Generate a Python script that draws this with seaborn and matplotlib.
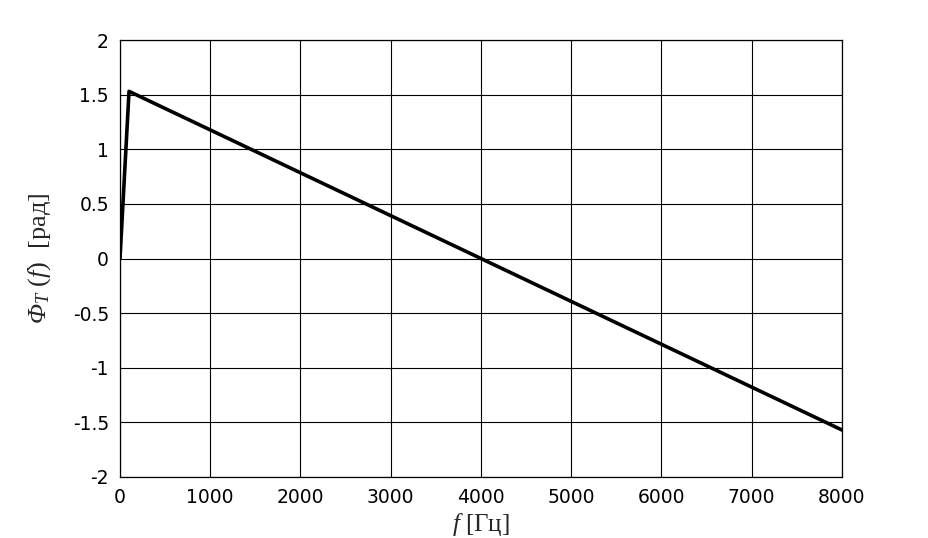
import matplotlib.pyplot as plt
import pandas as pd
import numpy as np
import seaborn as sns

# phase response points
freq = [0, 100, 8000]
phase = [0, 1.53, -1.57]

xticks = [0, 1000, 2000, 3000, 4000, 5000, 6000, 7000, 8000]
yticks = [-2, -1.5, -1, -0.5, 0, 0.5, 1, 1.5, 2]
ytick_labels = ['-2', '-1.5', '-1', '-0.5', '0', '0.5', '1', '1.5', '2']

df = pd.DataFrame({'f': freq, 'phi': phase})

sns.set_style('white')
plt.rcParams['font.family'] = ['DejaVu Sans']
plt.rcParams['mathtext.fontset'] = 'custom'
plt.rcParams['mathtext.rm'] = 'Liberation Serif'
plt.rcParams['mathtext.it'] = 'Liberation Serif:italic'

fig = plt.figure(figsize=(9.29, 5.38), dpi=100)
ax = fig.add_axes([120/929, 1 - 477/538, 722/929, 437/538])

sns.lineplot(data=df, x='f', y='phi', color='black', linewidth=2.6, ax=ax, zorder=3)

ax.set_xlim(0, 8000)
ax.set_ylim(-2, 2)
ax.set_xticks(xticks)
ax.set_xticklabels([str(t) for t in xticks])
ax.set_yticks(yticks)
ax.set_yticklabels(ytick_labels)
ax.tick_params(length=0, labelsize=13.5, pad=8, colors='black')
ax.grid(True, color='black', linewidth=0.8)
for s in ax.spines.values():
    s.set_color('black')
    s.set_linewidth(0.9)

ax.set_xlabel(r'$\mathit{f}$ [Гц]', fontsize=18, family='Liberation Serif', labelpad=3)
ax.set_ylabel(r'Φ$_{T}$ $\mathrm{(}$$f$$\mathrm{)}$  $\mathrm{[рад]}$', fontsize=19,
              family='Liberation Serif', style='italic', labelpad=14)

fig.savefig('out.png', dpi=100)
